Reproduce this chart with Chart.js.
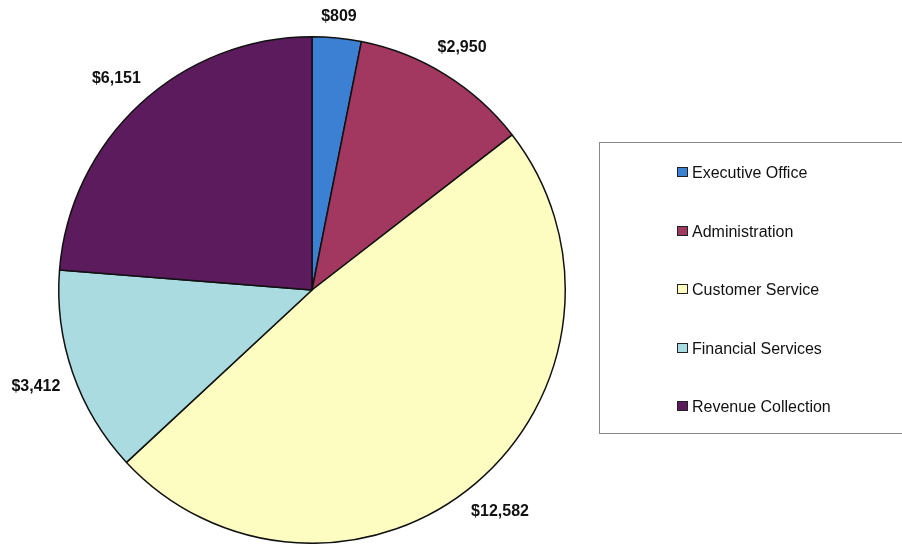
<!DOCTYPE html>
<html>
<head>
<meta charset="utf-8">
<script src="https://cdn.jsdelivr.net/npm/chart.js@4"></script>
<style>
  body { margin: 0; background: #fff; overflow: hidden; }
  #wrap { position: relative; width: 902px; height: 544px; }
  #legenda {
    position: absolute; left: 599px; top: 142px; width: 320px; height: 292px;
    border: 1px solid #8a8a8a; box-sizing: border-box;
    font-family: Arial, "Liberation Sans", sans-serif; font-size: 16px; color: #111;
  }
  .item { position: absolute; left: 77px; height: 18px; line-height: 18px; white-space: nowrap; }
  .caixa {
    display: inline-block; width: 9px; height: 8px; border: 1.5px solid #222;
    margin-right: 4px; vertical-align: 1px;
  }
</style>
</head>
<body>
<div id="wrap">
  <canvas id="myChart"></canvas>
  <div id="legenda"></div>
</div>
<script>
const categorias = ['Executive Office', 'Administration', 'Customer Service', 'Financial Services', 'Revenue Collection'];
const valores = [809, 2950, 12582, 3412, 6151];
const rotulos = ['$809', '$2,950', '$12,582', '$3,412', '$6,151'];
const cores = ['#3b80d2', '#a2385f', '#fdfdc2', '#aadbe0', '#5b1b5d'];

// legenda em html
const legenda = document.getElementById('legenda');
for (var i = 0; i < categorias.length; i++) {
  var div = document.createElement('div');
  div.className = 'item';
  div.style.top = (21 + i * 58.5) + 'px';
  div.innerHTML = '<span class="caixa" style="background:' + cores[i] + '"></span>' + categorias[i];
  legenda.appendChild(div);
}

// rotulos fora das fatias
const rotulosFora = {
  id: 'rotulosFora',
  afterDatasetsDraw(chart) {
    const ctx = chart.ctx;
    const meta = chart.getDatasetMeta(0);
    ctx.save();
    ctx.font = 'bold 16px Arial, "Liberation Sans", sans-serif';
    ctx.fillStyle = '#111';
    ctx.textAlign = 'center';
    ctx.textBaseline = 'middle';
    meta.data.forEach(function (arc, i) {
      const p = arc.getProps(['x', 'y', 'startAngle', 'endAngle', 'outerRadius'], true);
      const meio = (p.startAngle + p.endAngle) / 2;
      const larg = ctx.measureText(rotulos[i]).width / 2;
      const r = p.outerRadius + 14 + larg * Math.abs(Math.cos(meio)) + 6 * Math.abs(Math.sin(meio));
      ctx.fillText(rotulos[i], p.x + Math.cos(meio) * r, p.y + Math.sin(meio) * r);
    });
    ctx.restore();
  }
};

const ctx = document.getElementById('myChart');

new Chart(ctx, {
  type: 'pie',
  data: {
    labels: categorias,
    datasets: [{
      data: valores,
      backgroundColor: cores,
      borderColor: '#111',
      borderWidth: 1.5,
      clip: false
    }]
  },
  options: {
    responsive: true,
    maintainAspectRatio: false,
    animation: false,
    layout: { padding: { left: 0, right: 278, top: 36, bottom: 0 } },
    plugins: {
      legend: { display: false },
      tooltip: { enabled: false }
    }
  },
  plugins: [rotulosFora]
});
</script>
</body>
</html>
